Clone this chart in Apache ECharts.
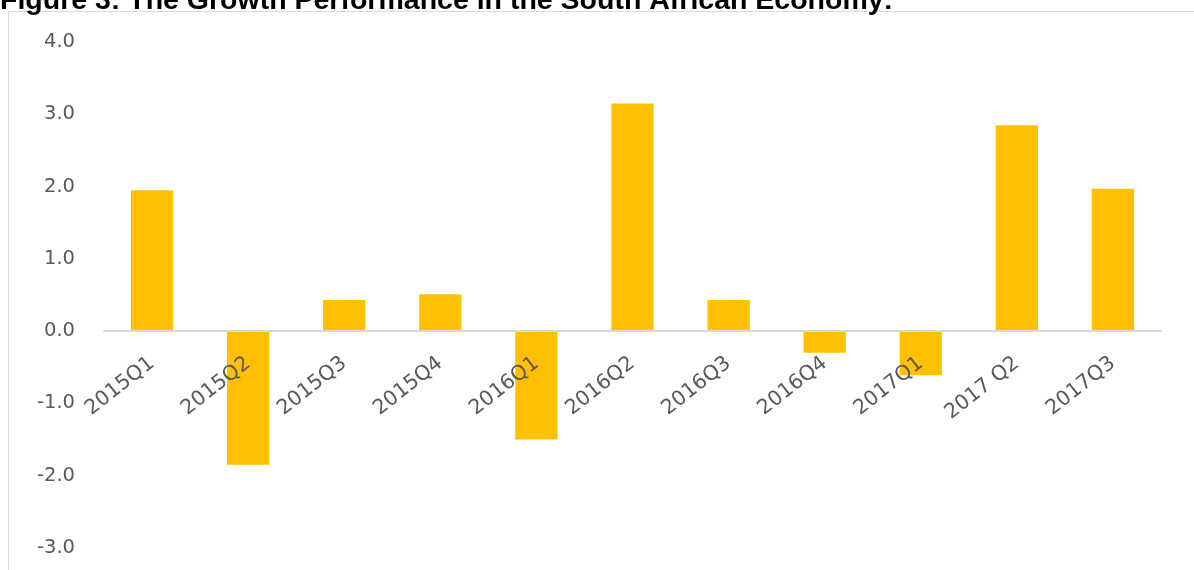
<!DOCTYPE html>
<html>
<head>
<meta charset="utf-8">
<script src="https://cdn.jsdelivr.net/npm/echarts@6/dist/echarts.min.js"></script>
<style>
html,body{margin:0;padding:0;background:#fff;}
#chart{width:1194px;height:570px;}
</style>
</head>
<body>
<div id="chart"></div>
<script>
const titleText = 'Figure 3: The Growth Performance in the South African Economy:';
const categories = ['2015Q1','2015Q2','2015Q3','2015Q4','2016Q1','2016Q2','2016Q3','2016Q4','2017Q1','2017 Q2','2017Q3'];
const growth = [1.95, -1.85, 0.43, 0.51, -1.5, 3.15, 0.43, -0.3, -0.61, 2.85, 1.97];
const yMin = -3, yMax = 4, yStep = 1;

const chart = echarts.init(document.getElementById('chart'));
const option = {
  animation: false,
  backgroundColor: '#fff',
  title: {
    text: titleText,
    left: 0,
    top: -13,
    padding: 0,
    textStyle: {fontFamily: 'Liberation Sans, Arial', fontWeight: 'bold', fontSize: 28.5, color: '#000'}
  },
  graphic: [{
    type: 'rect',
    shape: {x: 8.5, y: 11.5, width: 1400, height: 800},
    style: {fill: 'none', stroke: '#d9d9d9', lineWidth: 1},
    silent: true,
    z: -1
  }],
  grid: {left: 104, right: 33, top: 42, bottom: 22, containLabel: false, outerBoundsMode: 'none'},
  xAxis: {
    type: 'category',
    data: categories,
    offset: 0,
    z: 10,
    axisLine: {onZero: false, lineStyle: {color: '#d9d9d9', width: 2}},
    axisTick: {show: false},
    axisLabel: {
      rotate: 38,
      margin: 30,
      interval: 0,
      color: '#595959',
      fontFamily: 'DejaVu Sans',
      fontSize: 20.5
    }
  },
  yAxis: {
    type: 'value',
    min: yMin,
    max: yMax,
    interval: yStep,
    axisLine: {show: false},
    axisTick: {show: false},
    splitLine: {show: false},
    axisLabel: {
      margin: 29,
      color: '#595959',
      fontFamily: 'DejaVu Sans',
      fontSize: 19.5,
      formatter: v => v.toFixed(1)
    }
  },
  series: [{
    type: 'bar',
    data: growth,
    barCategoryGap: '56%',
    z: 2,
    itemStyle: {color: '#FFC000'}
  }]
};
chart.setOption(option);
// move the category axis (line + labels) onto the zero value line
const yZero = chart.convertToPixel({yAxisIndex: 0}, 0);
const yBottom = chart.convertToPixel({yAxisIndex: 0}, yMin);
chart.setOption({xAxis: {offset: yZero - yBottom}});
</script>
</body>
</html>
